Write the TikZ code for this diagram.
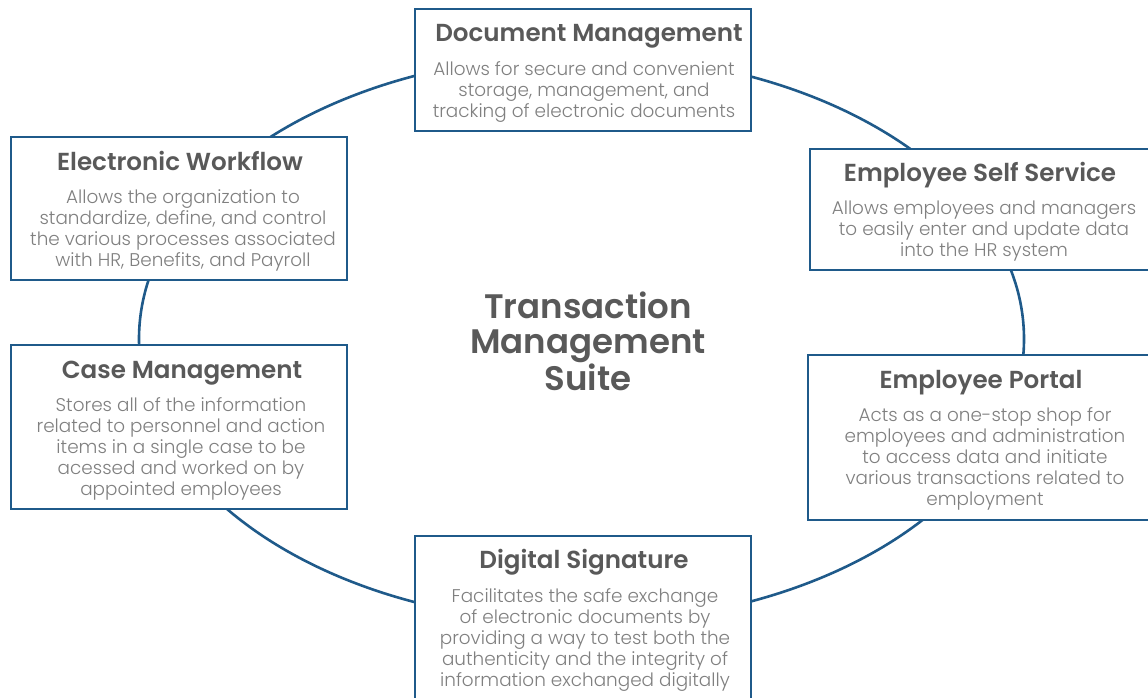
\documentclass[tikz,border=0pt]{standalone}
\usepackage{fontspec}
\setmainfont{Poppins}
\newfontfamily\headfont{Poppins SemiBold}
\newfontfamily\bodyfont{Poppins Light}
\definecolor{edge}{HTML}{1F5A8A}
\definecolor{headgray}{HTML}{595959}
\definecolor{bodygray}{HTML}{808080}
\begin{document}
\begin{tikzpicture}[x=1pt,y=-1pt,
  card/.style={draw=edge, line width=2.2pt, fill=white, inner sep=0pt, anchor=north west},
  head/.style={font=\headfont\fontsize{24.6}{28}\selectfont, text=headgray, inner sep=0pt, anchor=base},
  desc/.style={font=\bodyfont\fontsize{18.4}{21}\selectfont, text=bodygray, align=center, inner sep=0pt, anchor=north},
  hub/.style={font=\headfont\fontsize{34}{35}\selectfont, text=headgray, align=center, inner sep=0pt, anchor=north},
]
\useasboundingbox (0,0) rectangle (1148,698);
\clip (0,0) rectangle (1148,698);

% ring linking the six modules
\draw[edge, line width=2.6pt] (581.5,339) ellipse [x radius=442.5, y radius=284];

% module cards
\node[card, minimum width=336, minimum height=122] (docbox) at (414,8) {};
\node[card, minimum width=345, minimum height=121] (essbox) at (809,148) {};
\node[card, minimum width=336, minimum height=143] (ewbox) at (10,136) {};
\node[card, minimum width=336, minimum height=164] (cmbox) at (10,344) {};
\node[card, minimum width=347, minimum height=165] (epbox) at (807,354) {};
\node[card, minimum width=336, minimum height=170] (dsbox) at (414,535) {};

% titles
\node[head] (doct) at (589,42) {Document Management};
\node[head] (esst) at (980,181) {Employee Self Service};
\node[head] (ewt) at (180,170) {Electronic Workflow};
\node[head] (cmt) at (182,378) {Case Management};
\node[head] (ept) at (981,388) {Employee Portal};
\node[head] (dst) at (584,568) {Digital Signature};

% descriptions
\node[desc] (docd) at (584,61.5) {Allows for secure and convenient\\storage, management, and\\tracking of electronic documents};
\node[desc] (essd) at (984,200.5) {Allows employees and managers\\to easily enter and update data\\into the HR system};
\node[desc] (ewd) at (183,189.5) {Allows the organization to\\standardize, define, and control\\the various processes associated\\with HR, Benefits, and Payroll};
\node[desc] (cmd) at (181,397.5) {Stores all of the information\\related to personnel and action\\items in a single case to be\\acessed and worked on by\\appointed employees};
\node[desc] (epd) at (985,407.5) {Acts as a one-stop shop for\\employees and administration\\to access data and initiate\\various transactions related to\\employment};
\node[desc] (dsd) at (585,588.5) {Facilitates the safe exchange\\of electronic documents by\\providing a way to test both the\\authenticity and the integrity of\\information exchanged digitally};

% centre label
\node[hub] (suite) at (588,292) {Transaction\\Management\\Suite};
\end{tikzpicture}
\end{document}
